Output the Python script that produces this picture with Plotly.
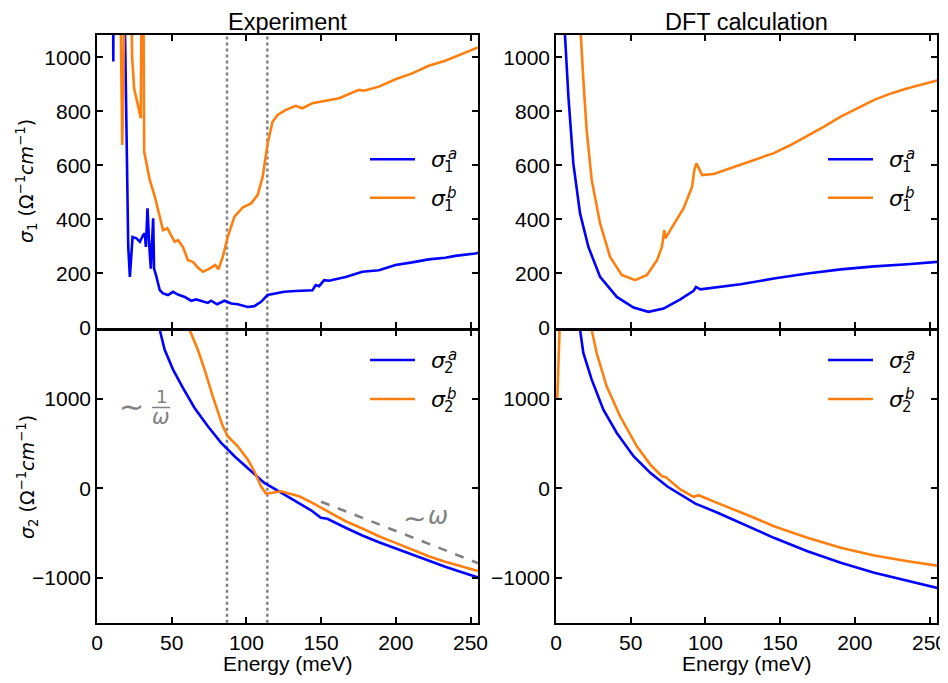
import plotly.graph_objects as go

# ---------------- data ----------------
exp_a1_x = [10.7, 10.9, 11.1, 18.2, 19.3, 20.3, 20.9, 22.0, 23.8, 26.4, 28.7, 30.9, 32.0, 32.7, 33.8, 34.9, 36.0, 37.6, 38.2, 39.8,
            42.0, 44.2, 47.5, 50.9, 54.2, 58.7, 63.0, 66.4, 70.9, 74.2, 76.4, 80.4, 85.3, 89.8, 94.2, 100.9, 105.3, 109.8,
            114.2, 119.8, 125.3, 133.0, 144.2, 146.4, 148.7, 152.0, 155.3, 166.4, 177.6, 188.7, 199.8, 210.9, 222.0, 233.1,
            239.8, 253.1, 255.0]
exp_a1_y = [1300, 984, 1300, 1300, 900, 500, 300, 187, 335, 330, 317, 342, 348, 298, 441, 311, 218, 404, 218, 187,
            138, 126, 120, 132, 122, 113, 99, 104, 95, 91, 99, 86, 99, 89, 86, 76, 79, 95,
            120, 126, 132, 135, 138, 157, 153, 175, 173, 187, 206, 212, 231, 241, 252, 258,
            265, 274, 276]

exp_b1_x = [15.5, 16.9, 18.7, 22.8, 23.5, 24.9, 27.1, 29.3, 29.9, 31.0, 31.6, 33.5, 35.3, 38.7, 42.0, 44.2, 47.1, 49.8, 52.0,
            54.2, 57.5, 60.9, 64.2, 67.5, 70.9, 75.3, 79.1, 81.3, 84.2, 87.5, 92.0, 97.5, 103.1, 107.5, 110.9, 114.2,
            117.5, 120.9, 126.4, 133.0, 137.5, 144.2, 155.3, 162.0, 175.3, 178.7, 188.7, 199.8, 210.9, 222.0, 233.1,
            244.2, 253.1, 255.0]
exp_b1_y = [1300, 675, 1300, 1300, 1000, 882, 830, 774, 1300, 1300, 650, 590, 546, 484, 410, 360, 367, 342, 317,
            323, 298, 249, 243, 222, 206, 218, 231, 216, 261, 335, 410, 444, 459, 490, 558, 681,
            761, 786, 805, 820, 811, 830, 842, 848, 879, 876, 891, 918, 940, 968, 987,
            1012, 1033, 1036]

exp_a2_x = [40.0, 42.0, 45.3, 50.9, 57.5, 65.3, 74.2, 83.1, 92.0, 103.1, 112.0, 119.8, 125.3, 131.0, 144.2, 149.8, 154.2,
            166.4, 177.6, 188.7, 199.8, 210.9, 222.0, 233.1, 244.2, 253.1, 255.0]
exp_a2_y = [2000, 1767, 1545, 1324, 1119, 896, 691, 506, 357, 190, 60, -14, -70, -126, -256, -330, -341,
            -441, -527, -602, -672, -739, -814, -876, -936, -988, -995]

exp_b2_x = [59.0, 62.0, 67.5, 72.0, 77.5, 80.9, 84.2, 87.5, 94.2, 100.9, 105.3, 109.8, 113.1, 117.5, 123.0, 135.3, 144.2,
            155.3, 166.4, 177.6, 188.7, 199.8, 210.9, 222.0, 233.1, 244.2, 253.1, 255.0]
exp_b2_y = [2100, 1767, 1545, 1324, 1026, 858, 691, 580, 468, 320, 190, 22, -59, -51, -33, -89, -163,
            -267, -368, -449, -535, -609, -683, -758, -821, -876, -914, -920]

dft_a1_x = [4.5, 6.0, 8.3, 11.6, 16.1, 21.7, 29.5, 40.7, 51.9, 61.9, 72.0, 83.2, 92.1, 93.7, 96.6, 107.8, 123.5, 145.8,
            168.3, 190.6, 213.0, 235.4, 254.4, 256.0]
dft_a1_y = [1700, 1083, 854, 607, 422, 298, 187, 113, 74, 58, 70, 104, 136, 150, 141, 148, 160, 181,
            200, 215, 226, 234, 242, 243]

dft_b1_x = [15.0, 16.6, 18.3, 20.5, 23.9, 29.5, 36.2, 44.0, 53.0, 60.9, 67.6, 70.9, 72.5, 73.2, 76.5, 85.4, 91.1, 92.6,
            94.0, 95.5, 97.8, 105.6, 116.8, 123.5, 130.2, 145.8, 157.0, 168.3, 179.4, 190.6, 201.8, 213.0, 224.2,
            235.4, 254.4, 256.0]
dft_b1_y = [1500, 1083, 916, 731, 546, 385, 261, 194, 175, 194, 249, 298, 360, 330, 360, 441, 521, 583,
            607, 589, 564, 568, 589, 601, 615, 645, 675, 708, 743, 780, 811, 842, 866,
            885, 913, 915]

dft_a2_x = [14.0, 16.1, 18.3, 23.9, 31.7, 40.7, 51.9, 63.1, 74.3, 85.4, 93.3, 107.8, 123.5, 145.8, 168.3, 190.6, 213.0,
            235.4, 254.4, 256.0]
dft_a2_y = [2300, 1767, 1509, 1212, 877, 617, 357, 172, 22, -89, -171, -270, -386, -553, -702, -832, -943,
            -1037, -1110, -1116]

dft_b2_x = [0.9, 2.3, 4.0, 20.0, 23.9, 27.2, 33.9, 42.9, 54.1, 63.1, 70.9, 73.2, 83.2, 92.1, 95.5, 107.8, 123.5, 130.2,
            145.8, 168.3, 190.6, 213.0, 235.4, 254.4, 256.0]
dft_b2_y = [1008, 1800, 2600, 2600, 1767, 1509, 1137, 803, 468, 264, 134, 127, -14, -96, -78, -163, -267, -312,
            -424, -553, -665, -750, -814, -862, -866]

omega_x = [150, 255]
omega_y = [-150, -835]

vlines = [87, 114]

titles = ["Experiment", "DFT calculation"]
x_ticks = [0, 50, 100, 150, 200, 250]
y1_ticks = [0, 200, 400, 600, 800, 1000]
y2_ticks = [-1000, 0, 1000]

BLUE = "#0000ff"
ORANGE = "#ff7f0e"
GRAY = "#808080"
# the page body has an 8px margin: the figure is drawn 8px in from the top-left corner
OFF = 8
W, H = 948 - OFF, 683 - OFF
FONT = "Liberation Sans, Arial, sans-serif"
MATH = "DejaVu Sans, sans-serif"

def px(x):
    return (x - OFF) / W

def py(y):
    return 1 - (y - OFF) / H

fig = go.Figure()

# axis domains (screen-pixel based)
xdom_l = [px(97), px(478)]
xdom_r = [px(556), px(937)]
ydom_t = [py(327.5), py(35)]
ydom_b = [py(622.7), py(330.5)]

def add(x, y, color, xa, ya, dash=None):
    fig.add_trace(go.Scatter(x=x, y=y, mode="lines", line=dict(color=color, width=2.6, dash=dash),
                             xaxis=xa, yaxis=ya, showlegend=False, hoverinfo="skip"))

add(exp_a1_x, exp_a1_y, BLUE, "x", "y")
add(exp_b1_x, exp_b1_y, ORANGE, "x", "y")
add(dft_a1_x, dft_a1_y, BLUE, "x2", "y2")
add(dft_b1_x, dft_b1_y, ORANGE, "x2", "y2")
add(exp_a2_x, exp_a2_y, BLUE, "x3", "y3")
add(exp_b2_x, exp_b2_y, ORANGE, "x3", "y3")
add(omega_x, omega_y, GRAY, "x3", "y3", dash="dash")
add(dft_a2_x, dft_a2_y, BLUE, "x4", "y4")
add(dft_b2_x, dft_b2_y, ORANGE, "x4", "y4")

axis_common = dict(showline=True, linecolor="black", linewidth=1.5, mirror="allticks", ticks="inside",
                   ticklen=6, tickwidth=1.5, tickcolor="black", showgrid=False, zeroline=False,
                   automargin=False, tickfont=dict(family=FONT, size=21, color="black"))

def xax(dom, anchor, labels):
    d = dict(axis_common)
    d.update(domain=dom, anchor=anchor, range=[0, 255], tickvals=x_ticks, showticklabels=labels)
    return d

def yax(dom, anchor, rng, ticks):
    d = dict(axis_common)
    d.update(domain=dom, anchor=anchor, range=rng, tickvals=ticks,
             ticktext=[str(t).replace("-", "\u2212") for t in ticks])
    return d

fig.update_layout(
    template="none",
    width=W, height=H, margin=dict(l=0, r=0, t=0, b=0, pad=0), autosize=False,
    paper_bgcolor="white", plot_bgcolor="white", showlegend=False,
    xaxis=xax(xdom_l, "y", False),
    yaxis=yax(ydom_t, "x", [0, 1082], y1_ticks),
    xaxis2=xax(xdom_r, "y2", False),
    yaxis2=yax(ydom_t, "x2", [0, 1082], y1_ticks),
    xaxis3=xax(xdom_l, "y3", True),
    yaxis3=yax(ydom_b, "x3", [-1500, 1760], y2_ticks),
    xaxis4=xax(xdom_r, "y4", True),
    yaxis4=yax(ydom_b, "x4", [-1500, 1760], y2_ticks),
)

shapes = []
# vertical dotted lines in experiment panels
for v in vlines:
    for yr in ["y domain", "y3 domain"]:
        shapes.append(dict(type="line", xref="x", yref=yr, x0=v, x1=v, y0=0, y1=1,
                           line=dict(color=GRAY, width=2.5, dash="dot"), layer="below"))

annotations = []
# column titles
for t, xc in zip(titles, [287.5, 746.5]):
    annotations.append(dict(text=t, x=px(xc), y=py(21.5), xref="paper", yref="paper", showarrow=False,
                            font=dict(family=FONT, size=23.5, color="black"), xanchor="center",
                            yanchor="middle", borderpad=0))
# axis labels
for lab, yc in [("<i>σ</i><sub>1</sub> (Ω<sup>−1</sup><i>cm</i><sup>−1</sup>)", 181),
                ("<i>σ</i><sub>2</sub> (Ω<sup>−1</sup><i>cm</i><sup>−1</sup>)", 477)]:
    annotations.append(dict(text=lab, x=px(27), y=py(yc), xref="paper", yref="paper", showarrow=False,
                            textangle=-90, font=dict(family=MATH, size=19, color="black"),
                            xanchor="center", yanchor="middle"))
for xc in [287.5, 746.5]:
    annotations.append(dict(text="Energy (meV)", x=px(xc), y=py(663), xref="paper", yref="paper",
                            showarrow=False, font=dict(family=FONT, size=21, color="black"),
                            xanchor="center", yanchor="middle"))

# manual legends
def legend(x_line0, y_line, sub, sup, color):
    shapes.append(dict(type="line", xref="paper", yref="paper", x0=px(x_line0), x1=px(x_line0 + 45),
                       y0=py(y_line), y1=py(y_line), line=dict(color=color, width=2.6)))
    xe = x_line0 + 45
    annotations.append(dict(text="<i>σ</i>", x=px(xe + 23.5), y=py(y_line + 0.5), xref="paper", yref="paper",
                            showarrow=False, font=dict(family=MATH, size=22, color="black"),
                            xanchor="center", yanchor="middle"))
    annotations.append(dict(text=sub, x=px(xe + 34), y=py(y_line + 8), xref="paper", yref="paper",
                            showarrow=False, font=dict(family=MATH, size=15, color="black"),
                            xanchor="center", yanchor="middle"))
    annotations.append(dict(text="<i>%s</i>" % sup, x=px(xe + 37), y=py(y_line - 5), xref="paper", yref="paper",
                            showarrow=False, font=dict(family=MATH, size=15, color="black"),
                            xanchor="center", yanchor="middle"))

for xl in [370, 828]:
    legend(xl, 159.3, "1", "a", BLUE)
    legend(xl, 197.8, "1", "b", ORANGE)
    legend(xl, 360, "2", "a", BLUE)
    legend(xl, 399, "2", "b", ORANGE)

# ~ 1/omega annotation
annotations.append(dict(text="∼", x=px(131), y=py(406), xref="paper", yref="paper", showarrow=False,
                        font=dict(family=MATH, size=30, color=GRAY), xanchor="center", yanchor="middle"))
annotations.append(dict(text="1", x=px(161), y=py(396), xref="paper", yref="paper", showarrow=False,
                        font=dict(family=MATH, size=18, color=GRAY), xanchor="center", yanchor="middle"))
annotations.append(dict(text="<i>ω</i>", x=px(161), y=py(417), xref="paper", yref="paper", showarrow=False,
                        font=dict(family=MATH, size=21, color=GRAY), xanchor="center", yanchor="middle"))
shapes.append(dict(type="line", xref="paper", yref="paper", x0=px(152), x1=px(170), y0=py(407.5), y1=py(407.5),
                   line=dict(color=GRAY, width=1.5)))
# ~ omega annotation
annotations.append(dict(text="∼", x=px(414), y=py(518), xref="paper", yref="paper", showarrow=False,
                        font=dict(family=MATH, size=28, color=GRAY), xanchor="center", yanchor="middle"))
annotations.append(dict(text="<i>ω</i>", x=px(438), y=py(516), xref="paper", yref="paper", showarrow=False,
                        font=dict(family=MATH, size=24, color=GRAY), xanchor="center", yanchor="middle"))

fig.update_layout(shapes=shapes, annotations=annotations)
fig.write_html("out.html")
